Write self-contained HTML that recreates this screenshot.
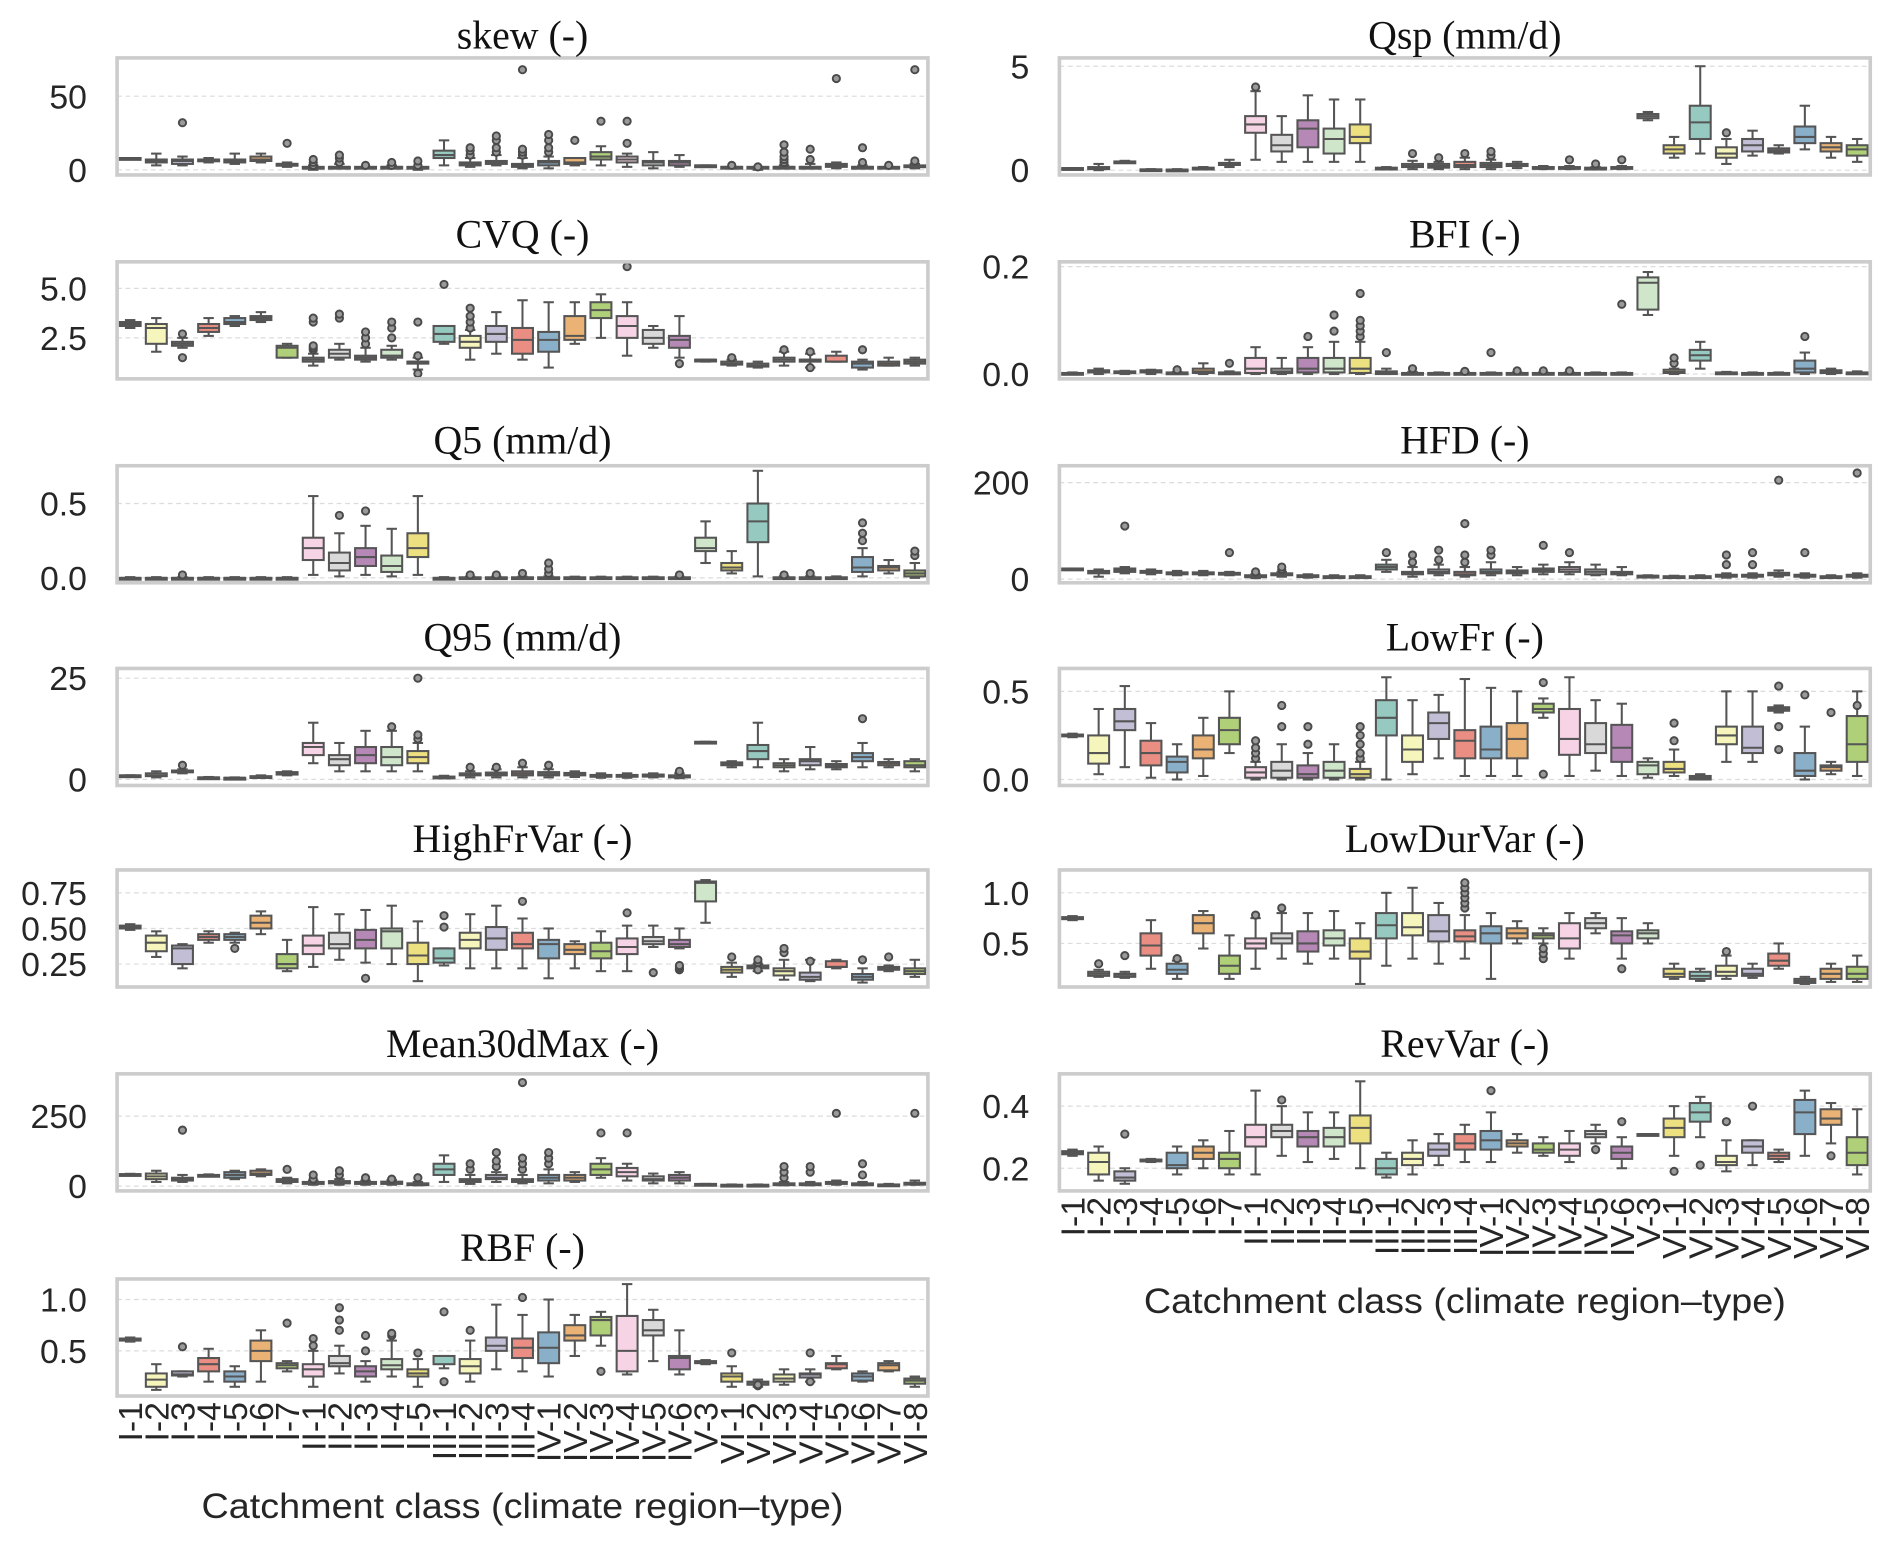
<!DOCTYPE html>
<html><head><meta charset="utf-8">
<style>html,body{margin:0;padding:0;background:#fff}svg{display:block}</style>
</head><body>
<svg id="chart" xmlns="http://www.w3.org/2000/svg" width="1892" height="1546" viewBox="0 0 1568 1281.3">
<rect x="0" y="0" width="1568" height="1281.3" fill="#fff"/>
</svg>
<script>
const categories = ["I-1","I-2","I-3","I-4","I-5","I-6","I-7","II-1","II-2","II-3","II-4","II-5","III-1","III-2","III-3","III-4","IV-1","IV-2","IV-3","IV-4","IV-5","IV-6","V-3","VI-1","VI-2","VI-3","VI-4","VI-5","VI-6","VI-7","VI-8"];
const palette = ["#8dd3c7","#ffffb3","#bebada","#fb8072","#80b1d3","#fdb462","#b3de69","#fccde5","#d9d9d9","#bc80bd","#ccebc5","#ffed6f"];

const skewBoxes = [[8,8,8,8,8],[3,5,6,7,11],[3,4,6,7,9],[5,6,6,7,8],[4,5,6,7,11],[5,6,7,9,11],[2,3,4,4,5],[0,1,1,2,3],[1,1,2,2,4],[1,1,1,2,2],[1,1,2,2,3],[0,1,1,2,2],[3,8,10,13,20],[2,3,4,5,8],[3,4,5,6,10],[1,2,3,4,8],[1,3,5,6,9],[3,4,5,8,8],[3,7,9,12,16],[2,5,7,9,11],[1,3,5,6,12],[2,3,5,6,10],[2,2,3,3,3],[1,1,2,2,2],[0,1,1,2,2],[1,1,2,2,3],[1,1,2,2,4],[1,2,3,4,5],[1,1,2,2,3],[1,1,1,2,2],[1,2,2,3,4]];
const skewOut = [[],[],[32],[],[],[],[18],[3,5,7],[5,8,10],[3],[3,5],[3,6],[],[10,13,15],[12,15,20,23],[10,12,14,68],[12,15,20,24],[20],[33],[18,33],[],[],[],[3],[2],[5,7,9,12,17],[7,14],[62],[5,15],[3],[6,68]];

const cvqBoxes = [[3.0,3.1,3.2,3.3,3.4],[1.8,2.2,3.0,3.2,3.5],[2.0,2.1,2.2,2.3,2.5],[2.6,2.8,3.0,3.2,3.5],[3.1,3.2,3.3,3.5,3.6],[3.3,3.4,3.5,3.6,3.8],[1.5,1.5,2.0,2.1,2.2],[1.1,1.3,1.4,1.5,1.7],[1.4,1.5,1.7,1.9,2.2],[1.3,1.4,1.5,1.6,2.0],[1.4,1.5,1.6,1.9,2.1],[0.9,1.2,1.3,1.3,1.5],[2.2,2.3,2.7,3.1,3.1],[1.4,2.0,2.3,2.6,2.9],[1.7,2.3,2.7,3.1,3.8],[1.4,1.7,2.4,3.0,4.4],[1.0,1.8,2.4,2.8,4.3],[2.2,2.4,2.6,3.6,4.3],[2.5,3.5,3.9,4.3,4.7],[1.6,2.5,3.1,3.6,4.3],[2.0,2.2,2.5,2.9,3.1],[1.5,2.0,2.4,2.6,3.6],[1.3,1.35,1.4,1.4,1.4],[1.1,1.15,1.2,1.3,1.4],[1.0,1.05,1.1,1.2,1.3],[1.1,1.3,1.4,1.5,1.8],[1.0,1.3,1.4,1.4,1.7],[1.3,1.3,1.3,1.6,1.8],[0.9,1.0,1.2,1.3,1.4],[1.1,1.1,1.2,1.3,1.5],[1.1,1.2,1.3,1.4,1.5]];
const cvqOut = [[],[],[1.5,2.7],[],[],[],[],[1.9,2.0,2.1,3.3,3.5],[3.5,3.7],[2.2,2.5,2.8],[2.5,3.0,3.3],[0.7,1.6,3.3],[5.2],[3.0,3.3,3.6,4.0],[],[],[],[],[],[6.1],[],[1.2],[],[1.5],[],[1.9],[1.0,1.8],[],[1.9],[],[]];

const q5Boxes = [[0,0,0,0,0.005],[0,0,0,0,0.005],[0,0,0,0,0.005],[0,0,0,0,0.005],[0,0,0,0,0.005],[0,0,0,0,0.005],[0,0,0,0,0.005],[0.02,0.12,0.2,0.27,0.55],[0.01,0.05,0.1,0.17,0.30],[0.02,0.08,0.14,0.2,0.35],[0.01,0.04,0.08,0.15,0.33],[0.02,0.14,0.2,0.3,0.55],[0,0,0,0,0.005],[0,0,0.002,0.004,0.008],[0,0,0.002,0.004,0.008],[0,0,0.002,0.004,0.008],[0,0,0.002,0.004,0.01],[0,0,0.002,0.004,0.008],[0,0,0.002,0.004,0.008],[0,0,0.002,0.004,0.008],[0,0,0.002,0.004,0.008],[0,0,0.002,0.004,0.008],[0.1,0.18,0.2,0.27,0.38],[0.03,0.05,0.07,0.1,0.18],[0.01,0.24,0.38,0.5,0.72],[0,0,0.002,0.004,0.01],[0,0,0.002,0.004,0.01],[0,0,0.002,0.004,0.01],[0.01,0.04,0.07,0.14,0.20],[0.03,0.05,0.07,0.08,0.12],[0.0,0.01,0.03,0.05,0.1]];
const q5Out = [[],[],[0.02],[],[],[],[],[],[0.42],[0.45],[],[],[],[0.02],[0.02],[0.03],[0.03,0.06,0.1],[],[],[],[],[0.02],[],[],[],[0.02],[0.03],[],[0.25,0.3,0.37],[],[0.15,0.18]];

const q95Boxes = [[1,1,1,1,1],[0.5,0.8,1,1.5,2],[1.5,1.8,2,2.2,2.5],[0.3,0.4,0.5,0.5,0.6],[0.2,0.3,0.4,0.4,0.5],[0.5,0.6,0.7,0.8,1],[1,1.2,1.5,1.8,2],[4,6,8,9,14],[2,3.5,5,6,9],[2,4,6,8,12],[2,3.5,5.5,8,12],[2,4,5.5,7,9],[0.3,0.5,0.6,0.7,0.9],[0.5,1,1.2,1.5,2],[0.5,1,1.3,1.7,2.5],[0.5,1,1.5,2,3],[0.5,1,1.3,1.8,2.5],[0.6,1,1.3,1.6,2],[0.4,0.7,0.9,1.1,1.5],[0.4,0.7,0.9,1.1,1.5],[0.5,0.7,1,1.2,1.5],[0.3,0.5,0.8,1,1.5],[9,9,9.2,9.3,9.3],[3,3.5,3.8,4.2,4.5],[3,5,7,8.5,14],[2,3,3.5,4,5],[2.5,3.5,4.5,5,8],[2.5,3,3.3,3.8,4.5],[3,4.5,5.5,6.5,9],[3,3.5,4,4.3,5],[2,3,3.5,4.5,5]];
const q95Out = [[],[],[3.5],[],[],[],[],[],[],[],[13],[10,11,25],[],[3],[3],[4],[3.5],[],[],[],[],[2],[],[],[],[],[],[],[15],[],[]];

const hfvBoxes = [[0.49,0.5,0.51,0.52,0.53],[0.3,0.34,0.4,0.45,0.48],[0.22,0.25,0.36,0.38,0.39],[0.4,0.42,0.44,0.46,0.48],[0.4,0.42,0.44,0.46,0.47],[0.46,0.5,0.54,0.59,0.62],[0.2,0.22,0.25,0.32,0.42],[0.23,0.32,0.38,0.45,0.65],[0.28,0.36,0.39,0.47,0.6],[0.26,0.36,0.42,0.49,0.63],[0.25,0.36,0.48,0.5,0.66],[0.13,0.25,0.31,0.4,0.55],[0.24,0.26,0.29,0.36,0.36],[0.22,0.36,0.42,0.47,0.6],[0.22,0.35,0.43,0.51,0.66],[0.22,0.36,0.39,0.47,0.57],[0.15,0.29,0.39,0.42,0.5],[0.22,0.32,0.35,0.39,0.41],[0.2,0.29,0.34,0.4,0.48],[0.2,0.32,0.37,0.43,0.52],[0.37,0.39,0.41,0.44,0.52],[0.36,0.37,0.39,0.42,0.5],[0.54,0.69,0.82,0.83,0.84],[0.16,0.19,0.21,0.23,0.26],[0.2,0.22,0.23,0.24,0.25],[0.14,0.17,0.2,0.22,0.28],[0.13,0.14,0.16,0.19,0.28],[0.22,0.23,0.23,0.27,0.28],[0.12,0.14,0.16,0.18,0.22],[0.2,0.21,0.22,0.23,0.24],[0.16,0.18,0.2,0.22,0.28]];
const hfvOut = [[],[],[],[],[0.36],[],[],[],[],[0.15],[],[],[0.51,0.59],[],[],[0.69],[],[],[],[0.61],[0.19],[0.21,0.22,0.23,0.24],[],[0.3],[0.26,0.28,0.21],[0.33,0.36],[0.27],[],[0.28],[0.3],[]];

const m30Boxes = [[40,40,42,43,44],[15,25,35,45,55],[15,20,25,30,40],[35,37,38,40,42],[25,30,40,50,55],[35,40,45,55,60],[10,15,20,25,30],[5,8,10,15,20],[5,10,15,18,25],[5,8,12,15,20],[5,8,12,16,22],[3,5,8,10,15],[15,40,60,80,110],[8,15,20,25,40],[15,25,30,40,50],[10,15,20,25,40],[10,20,30,40,60],[15,20,30,40,50],[30,40,60,80,100],[20,35,50,65,80],[10,20,25,35,45],[10,20,30,40,50],[5,6,7,8,8],[2,3,4,5,6],[2,3,4,5,6],[3,5,7,10,15],[3,5,8,10,15],[5,8,12,15,20],[3,5,8,10,15],[3,4,5,6,8],[5,7,10,12,20]];
const m30Out = [[],[],[200],[],[],[],[60],[25,40],[40,55],[30],[25],[30],[],[60,80],[70,90,120],[60,80,100,370],[80,100,120],[],[190],[190],[],[],[],[],[],[30,50,70],[50,70],[260],[40,80],[],[260]];

const rbfBoxes = [[0.59,0.6,0.61,0.62,0.63],[0.12,0.15,0.22,0.28,0.37],[0.25,0.26,0.27,0.3,0.3],[0.2,0.3,0.37,0.43,0.52],[0.15,0.2,0.25,0.3,0.35],[0.2,0.4,0.5,0.6,0.7],[0.3,0.33,0.36,0.38,0.4],[0.15,0.25,0.32,0.37,0.5],[0.28,0.35,0.38,0.45,0.55],[0.2,0.25,0.3,0.35,0.4],[0.25,0.32,0.36,0.42,0.6],[0.15,0.25,0.28,0.32,0.42],[0.33,0.37,0.45,0.45,0.45],[0.2,0.28,0.35,0.42,0.6],[0.32,0.5,0.55,0.63,0.95],[0.3,0.43,0.53,0.62,0.85],[0.25,0.38,0.53,0.68,1.0],[0.45,0.6,0.65,0.75,0.85],[0.55,0.65,0.8,0.83,0.88],[0.27,0.3,0.5,0.84,1.15],[0.4,0.65,0.7,0.8,0.9],[0.27,0.32,0.43,0.45,0.7],[0.37,0.38,0.39,0.40,0.41],[0.15,0.2,0.25,0.28,0.35],[0.15,0.17,0.19,0.2,0.22],[0.17,0.2,0.23,0.27,0.32],[0.2,0.24,0.27,0.28,0.32],[0.32,0.33,0.37,0.38,0.45],[0.2,0.21,0.25,0.28,0.3],[0.3,0.31,0.36,0.38,0.4],[0.15,0.18,0.21,0.23,0.25]];
const rbfOut = [[],[],[0.54],[],[],[],[0.77],[0.55,0.62],[0.7,0.8,0.92],[0.5,0.65],[0.65,0.67],[0.48],[0.2,0.88],[0.7],[],[1.02],[],[],[0.3],[],[],[],[],[0.48],[0.16,0.17],[],[0.2,0.48],[],[],[],[]];

const qspBoxes = [[0.1,0.1,0.1,0.1,0.1],[0,0.05,0.1,0.15,0.3],[0.35,0.38,0.4,0.42,0.45],[0,0.02,0.03,0.04,0.05],[0,0.01,0.02,0.03,0.05],[0.05,0.08,0.1,0.12,0.15],[0.15,0.25,0.3,0.35,0.5],[0.5,1.8,2.2,2.6,3.8],[0.4,0.9,1.2,1.7,2.6],[0.4,1.1,2.0,2.4,3.6],[0.4,0.8,1.5,2.0,3.4],[0.4,1.3,1.6,2.2,3.4],[0.05,0.08,0.1,0.12,0.15],[0.05,0.15,0.2,0.3,0.45],[0.05,0.12,0.2,0.3,0.4],[0.05,0.15,0.25,0.4,0.6],[0.05,0.15,0.25,0.35,0.5],[0.1,0.2,0.25,0.3,0.4],[0.05,0.1,0.12,0.15,0.2],[0.05,0.08,0.1,0.15,0.2],[0.05,0.08,0.1,0.12,0.15],[0.05,0.08,0.1,0.15,0.2],[2.4,2.5,2.6,2.7,2.8],[0.6,0.8,1.0,1.2,1.6],[0.8,1.5,2.3,3.1,5.0],[0.3,0.6,0.8,1.1,1.5],[0.7,0.9,1.2,1.5,1.9],[0.8,0.85,0.95,1.05,1.2],[1.0,1.3,1.6,2.1,3.1],[0.6,0.9,1.1,1.3,1.6],[0.4,0.7,1.0,1.2,1.5]];
const qspOut = [[],[],[],[],[],[],[],[4.0],[],[],[],[],[],[0.8],[0.6],[0.8],[0.7,0.9],[],[],[0.5],[0.3],[0.5],[],[],[],[1.8],[],[],[],[],[]];

const bfiBoxes = [[0,0,0,0.002,0.003],[0,0.003,0.005,0.007,0.01],[0,0.003,0.004,0.005,0.006],[0,0.003,0.005,0.007,0.008],[0,0.001,0.002,0.003,0.004],[0,0.002,0.005,0.01,0.02],[0,0.001,0.002,0.003,0.005],[0,0.002,0.01,0.03,0.05],[0,0.002,0.005,0.01,0.03],[0,0.003,0.01,0.03,0.05],[0,0.003,0.01,0.03,0.06],[0,0.002,0.01,0.03,0.06],[0,0,0.002,0.005,0.01],[0,0,0.001,0.002,0.004],[0,0,0.001,0.002,0.003],[0,0,0.001,0.002,0.003],[0,0,0.001,0.002,0.003],[0,0,0.001,0.002,0.003],[0,0,0.001,0.002,0.003],[0,0,0.001,0.002,0.003],[0,0,0.001,0.002,0.003],[0,0,0.001,0.002,0.003],[0.11,0.12,0.17,0.18,0.19],[0,0.002,0.004,0.008,0.01],[0.01,0.025,0.035,0.045,0.06],[0,0,0.002,0.003,0.004],[0,0,0.001,0.002,0.003],[0,0,0.001,0.002,0.003],[0,0.003,0.01,0.025,0.04],[0,0.002,0.005,0.007,0.01],[0,0.001,0.002,0.003,0.005]];
const bfiOut = [[],[],[],[],[0.008],[],[0.02],[],[],[0.07],[0.08,0.11],[0.07,0.08,0.09,0.1,0.15],[0.04],[0.01],[],[0.005],[0.04],[0.006],[0.006],[0.006],[],[0.13],[],[0.02,0.03],[],[],[],[],[0.07],[],[]];

const hfdBoxes = [[20,21,21,22,22],[5,12,15,17,20],[12,15,18,22,25],[10,13,15,17,20],[8,10,12,14,17],[8,10,12,14,17],[8,10,11,13,15],[2,4,6,8,10],[5,8,10,12,15],[3,5,6,8,10],[3,4,5,6,8],[3,4,5,6,8],[15,20,25,30,40],[5,10,12,15,25],[8,12,15,20,30],[5,8,10,15,25],[8,12,15,20,35],[8,12,15,18,25],[10,15,18,22,30],[10,15,20,25,35],[8,10,15,20,30],[8,10,12,15,25],[5,6,7,7,8],[3,4,5,6,7],[3,4,5,6,8],[3,5,7,9,12],[3,5,7,9,12],[5,8,10,13,18],[3,5,7,9,12],[3,4,5,6,8],[3,5,7,9,12]];
const hfdOut = [[],[],[110],[],[],[],[55],[15],[20,25],[],[],[],[55],[35,50],[40,60],[35,50,115],[50,60],[],[70],[55],[],[],[],[],[],[30,50],[30,55],[205],[55],[],[220]];

const lowfrBoxes = [[0.24,0.245,0.25,0.255,0.26],[0.03,0.09,0.15,0.25,0.4],[0.07,0.28,0.33,0.4,0.53],[0.01,0.08,0.15,0.22,0.32],[0.0,0.04,0.1,0.13,0.2],[0.02,0.12,0.17,0.25,0.35],[0.15,0.2,0.28,0.35,0.5],[0,0.01,0.04,0.07,0.1],[0,0.01,0.05,0.1,0.2],[0,0.01,0.03,0.08,0.15],[0,0.01,0.05,0.1,0.2],[0,0.01,0.03,0.06,0.1],[0,0.25,0.35,0.45,0.58],[0.03,0.1,0.17,0.25,0.45],[0.12,0.23,0.32,0.38,0.48],[0.02,0.12,0.22,0.28,0.57],[0.02,0.12,0.17,0.3,0.52],[0.02,0.12,0.23,0.32,0.5],[0.35,0.38,0.4,0.43,0.46],[0.02,0.14,0.23,0.4,0.58],[0.05,0.15,0.2,0.32,0.45],[0.02,0.1,0.18,0.31,0.43],[0.01,0.03,0.08,0.1,0.12],[0.02,0.04,0.06,0.1,0.17],[0,0,0.01,0.02,0.03],[0.1,0.2,0.25,0.3,0.5],[0.1,0.15,0.18,0.3,0.5],[0.38,0.39,0.4,0.41,0.42],[0,0.02,0.05,0.15,0.3],[0.03,0.05,0.07,0.08,0.1],[0.02,0.1,0.2,0.36,0.5]];
const lowfrOut = [[],[],[],[],[],[],[],[0.12,0.15,0.18,0.22],[0.3,0.42],[0.2,0.3],[],[0.12,0.15,0.2,0.25,0.3],[],[],[],[],[],[],[0.03,0.55],[],[],[],[],[0.22,0.32],[],[],[],[0.17,0.3,0.53],[0.48],[0.38],[0.42]];

const ldvBoxes = [[0.73,0.74,0.75,0.76,0.77],[0.17,0.18,0.2,0.22,0.24],[0.16,0.17,0.19,0.2,0.22],[0.25,0.38,0.48,0.6,0.73],[0.15,0.2,0.24,0.3,0.33],[0.45,0.6,0.7,0.78,0.82],[0.15,0.2,0.28,0.38,0.58],[0.25,0.45,0.5,0.55,0.75],[0.35,0.5,0.55,0.6,0.8],[0.3,0.42,0.5,0.62,0.8],[0.35,0.48,0.55,0.63,0.82],[0.1,0.35,0.42,0.55,0.7],[0.28,0.55,0.68,0.8,1.0],[0.35,0.58,0.66,0.8,1.05],[0.3,0.52,0.62,0.78,0.9],[0.35,0.52,0.57,0.63,0.78],[0.15,0.5,0.6,0.67,0.8],[0.5,0.55,0.6,0.65,0.72],[0.5,0.55,0.58,0.6,0.65],[0.35,0.45,0.55,0.7,0.8],[0.6,0.65,0.7,0.75,0.8],[0.35,0.5,0.58,0.62,0.75],[0.5,0.55,0.6,0.63,0.7],[0.15,0.17,0.2,0.25,0.3],[0.13,0.15,0.18,0.22,0.25],[0.15,0.18,0.22,0.28,0.38],[0.16,0.18,0.2,0.25,0.3],[0.25,0.28,0.33,0.4,0.5],[0.1,0.11,0.13,0.15,0.17],[0.12,0.15,0.2,0.25,0.3],[0.12,0.15,0.2,0.27,0.38]];
const ldvOut = [[],[0.3],[0.38],[],[0.35],[],[],[0.78],[0.85],[],[],[],[],[],[],[0.85,0.9,0.95,1.0,1.05,1.1],[],[],[0.35,0.4,0.45],[],[],[0.25],[],[],[],[0.42],[],[],[],[],[]];

const revBoxes = [[0.24,0.245,0.25,0.255,0.26],[0.16,0.18,0.22,0.25,0.27],[0.15,0.16,0.17,0.19,0.2],[0.22,0.222,0.225,0.228,0.23],[0.18,0.2,0.21,0.25,0.27],[0.2,0.23,0.25,0.27,0.29],[0.18,0.2,0.23,0.25,0.32],[0.18,0.27,0.3,0.34,0.45],[0.24,0.3,0.32,0.34,0.4],[0.22,0.27,0.3,0.32,0.38],[0.23,0.27,0.3,0.33,0.38],[0.2,0.28,0.33,0.37,0.48],[0.17,0.18,0.2,0.23,0.25],[0.18,0.21,0.23,0.25,0.29],[0.21,0.24,0.26,0.28,0.31],[0.22,0.26,0.28,0.31,0.34],[0.22,0.26,0.29,0.32,0.38],[0.25,0.27,0.28,0.29,0.31],[0.24,0.25,0.26,0.28,0.3],[0.22,0.24,0.26,0.28,0.32],[0.28,0.3,0.31,0.32,0.34],[0.2,0.23,0.25,0.27,0.3],[0.31,0.31,0.31,0.31,0.31],[0.24,0.3,0.33,0.36,0.4],[0.3,0.35,0.38,0.41,0.43],[0.19,0.21,0.22,0.24,0.29],[0.21,0.25,0.27,0.29,0.29],[0.22,0.23,0.24,0.25,0.26],[0.24,0.31,0.38,0.42,0.45],[0.28,0.34,0.36,0.39,0.41],[0.18,0.21,0.25,0.3,0.39]];
const revOut = [[],[],[0.31],[],[],[],[],[],[0.42],[],[],[],[],[],[],[],[0.45],[],[],[],[0.26],[0.35],[],[0.19],[0.21],[0.35],[0.4],[],[],[0.24],[]];

const skewTicks = [0,50], cvqTicks = [2.5,5.0], q5Ticks = [0.0,0.5], q95Ticks = [0,25], hfvTicks = [0.25,0.50,0.75], m30Ticks = [0,250], rbfTicks = [0.5,1.0];
const qspTicks = [0,5], bfiTicks = [0.0,0.2], hfdTicks = [0,200], lowfrTicks = [0.0,0.5], ldvTicks = [0.5,1.0], revTicks = [0.2,0.4];
const skewTickLabels = ["0","50"], cvqTickLabels = ["2.5","5.0"], q5TickLabels = ["0.0","0.5"], q95TickLabels = ["0","25"], hfvTickLabels = ["0.25","0.50","0.75"], m30TickLabels = ["0","250"], rbfTickLabels = ["0.5","1.0"];
const qspTickLabels = ["0","5"], bfiTickLabels = ["0.0","0.2"], hfdTickLabels = ["0","200"], lowfrTickLabels = ["0.0","0.5"], ldvTickLabels = ["0.5","1.0"], revTickLabels = ["0.2","0.4"];

const panels = [
 {name:"skew",title:"skew (-)",col:0,row:0,dom:[-3.5,76],b:skewBoxes,o:skewOut,t:skewTicks,tl:skewTickLabels},
 {name:"cvq",title:"CVQ (-)",col:0,row:1,dom:[0.43,6.34],b:cvqBoxes,o:cvqOut,t:cvqTicks,tl:cvqTickLabels},
 {name:"q5",title:"Q5 (mm/d)",col:0,row:2,dom:[-0.033,0.754],b:q5Boxes,o:q5Out,t:q5Ticks,tl:q5TickLabels},
 {name:"q95",title:"Q95 (mm/d)",col:0,row:3,dom:[-1.5,27.4],b:q95Boxes,o:q95Out,t:q95Ticks,tl:q95TickLabels},
 {name:"highfrvar",title:"HighFrVar (-)",col:0,row:4,dom:[0.089,0.911],b:hfvBoxes,o:hfvOut,t:hfvTicks,tl:hfvTickLabels},
 {name:"mean30dmax",title:"Mean30dMax (-)",col:0,row:5,dom:[-17,401],b:m30Boxes,o:m30Out,t:m30Ticks,tl:m30TickLabels},
 {name:"rbf",title:"RBF (-)",col:0,row:6,dom:[0.06,1.2],b:rbfBoxes,o:rbfOut,t:rbfTicks,tl:rbfTickLabels,xaxis:true},
 {name:"qsp",title:"Qsp (mm/d)",col:1,row:0,dom:[-0.23,5.4],b:qspBoxes,o:qspOut,t:qspTicks,tl:qspTickLabels},
 {name:"bfi",title:"BFI (-)",col:1,row:1,dom:[-0.009,0.209],b:bfiBoxes,o:bfiOut,t:bfiTicks,tl:bfiTickLabels},
 {name:"hfd",title:"HFD (-)",col:1,row:2,dom:[-7.6,235],b:hfdBoxes,o:hfdOut,t:hfdTicks,tl:hfdTickLabels},
 {name:"lowfr",title:"LowFr (-)",col:1,row:3,dom:[-0.034,0.63],b:lowfrBoxes,o:lowfrOut,t:lowfrTicks,tl:lowfrTickLabels},
 {name:"lowdurvar",title:"LowDurVar (-)",col:1,row:4,dom:[0.07,1.226],b:ldvBoxes,o:ldvOut,t:ldvTicks,tl:ldvTickLabels},
 {name:"revvar",title:"RevVar (-)",col:1,row:5,dom:[0.127,0.504],b:revBoxes,o:revOut,t:revTicks,tl:revTickLabels,xaxis:true}
];

const NS="http://www.w3.org/2000/svg";
const svg=document.getElementById('chart');
function mk(tag,attrs,parent){const e=document.createElementNS(NS,tag);for(const k in attrs)e.setAttribute(k,attrs[k]);(parent||svg).appendChild(e);return e;}
function desat(hex,s){
 let r=parseInt(hex.slice(1,3),16)/255,g=parseInt(hex.slice(3,5),16)/255,b=parseInt(hex.slice(5,7),16)/255;
 const mx=Math.max(r,g,b),mn=Math.min(r,g,b);let h=0,sat=0;const l=(mx+mn)/2;
 if(mx!==mn){const d=mx-mn;sat=l>0.5?d/(2-mx-mn):d/(mx+mn);
  if(mx===r)h=(g-b)/d+(g<b?6:0);else if(mx===g)h=(b-r)/d+2;else h=(r-g)/d+4;h/=6;}
 sat*=s;
 function hue(p,q,t){if(t<0)t+=1;if(t>1)t-=1;if(t<1/6)return p+(q-p)*6*t;if(t<1/2)return q;if(t<2/3)return p+(q-p)*(2/3-t)*6;return p;}
 let R,G,B;if(sat===0){R=G=B=l;}else{const q=l<0.5?l*(1+sat):l+sat-l*sat,p=2*l-q;R=hue(p,q,h+1/3);G=hue(p,q,h);B=hue(p,q,h-1/3);}
 return "rgb("+Math.round(R*255)+","+Math.round(G*255)+","+Math.round(B*255)+")";
}
const colX=[97,878], W=672, rowTop=[48,217,386,554,721,890,1060], H=97;
const titleY=[42,207,378,541,708,878,1047];
const LINE="#555555", LW=1.7;

panels.forEach(p=>{
 const x0=colX[p.col], y0=rowTop[p.row];
 const g=mk('g',{});
 
 
 const ys=v=>y0+H-(v-p.dom[0])/(p.dom[1]-p.dom[0])*H;
 const bw=W/categories.length;
 const xs=i=>x0+(i+0.5)*bw;
 p.t.forEach((tv,k)=>{
  const gl=mk('line',{x1:x0,x2:x0+W,y1:ys(tv),y2:ys(tv),stroke:"#dcdcdc","stroke-width":1,"stroke-dasharray":"4,3"},g);
  
  
  const tl=mk('text',{x:x0-25,y:ys(tv)+10,"text-anchor":"end","font-family":"Liberation Sans, sans-serif","font-size":28,fill:"#262626"},g);
  tl.textContent=p.tl[k];
  
  
 });
 p.b.forEach((s,i)=>{
  const cx=xs(i), hw=bw*0.8/2, fill=desat(palette[i%12],0.75);
  const bg=mk('g',{},g);
  
  
  mk('line',{x1:cx,x2:cx,y1:ys(s[0]),y2:ys(s[1]),stroke:LINE,"stroke-width":LW},bg);
  mk('line',{x1:cx,x2:cx,y1:ys(s[3]),y2:ys(s[4]),stroke:LINE,"stroke-width":LW},bg);
  mk('line',{x1:cx-hw/2,x2:cx+hw/2,y1:ys(s[0]),y2:ys(s[0]),stroke:LINE,"stroke-width":LW},bg);
  mk('line',{x1:cx-hw/2,x2:cx+hw/2,y1:ys(s[4]),y2:ys(s[4]),stroke:LINE,"stroke-width":LW},bg);
  const top=ys(s[3]),bot=ys(s[1]);
  mk('rect',{x:cx-hw,y:top,width:2*hw,height:Math.max(bot-top,1.5),fill:fill,stroke:LINE,"stroke-width":LW},bg);
  mk('line',{x1:cx-hw,x2:cx+hw,y1:ys(s[2]),y2:ys(s[2]),stroke:LINE,"stroke-width":LW},bg);
  p.o[i].forEach(ov=>{
   const c=mk('circle',{cx:cx,cy:ys(ov),r:3,fill:"#9a9a9a",stroke:"#4a4a4a","stroke-width":1.6},bg);
   
   
  });
 });
 const fr=mk('rect',{x:x0,y:y0,width:W,height:H,fill:"none",stroke:"#cccccc","stroke-width":3},g);
 
 
 const tt=mk('text',{x:x0+W/2,y:titleY[p.row]-2,"text-anchor":"middle","font-family":"Liberation Serif, serif","font-size":33,fill:"#111"},g);
 tt.textContent=p.title;
 
 
 if(p.xaxis){
  categories.forEach((c,i)=>{
   const ty=y0+H+5;
   const t=mk('text',{x:0,y:0,"text-anchor":"end","font-family":"Liberation Sans, sans-serif","font-size":28,fill:"#262626",transform:"translate("+(xs(i)+10)+","+ty+") rotate(-90)"},g);
   t.textContent=c;
   
   
  });
  const xl=mk('text',{x:x0+W/2,y:y0+H+101,"text-anchor":"middle","font-family":"Liberation Sans, sans-serif","font-size":29,fill:"#262626",textLength:532,lengthAdjust:"spacingAndGlyphs"},g);
  xl.textContent="Catchment class (climate region\u2013type)";
  
  
 }
});
</script>
</body></html>
